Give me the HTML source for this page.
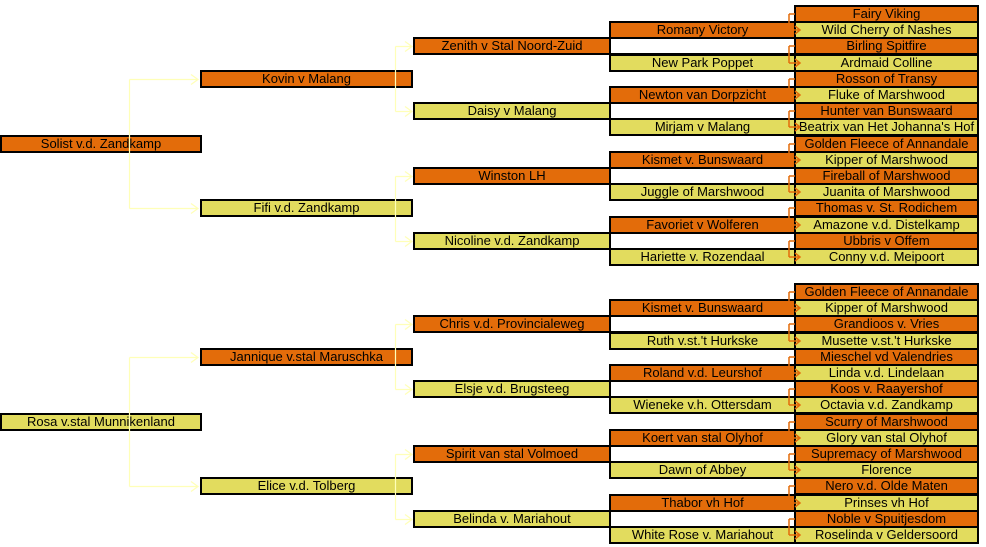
<!DOCTYPE html>
<html><head><meta charset="utf-8"><style>
body{margin:0;width:986px;height:547px;background:#fff;position:relative;overflow:hidden}
.b{position:absolute;height:18px;box-sizing:border-box;border:2px solid #000;font:13px/14px "Liberation Sans",sans-serif;text-align:center;color:#000;white-space:nowrap;overflow:hidden}
.o{background:#E36C0A}.y{background:#E2DC5E}.w{background:#fff}
.c1{left:0;width:202px}.c2{left:200px;width:213px}.c3{left:413px;width:198px}.c4{left:609px;width:187px}.c5{left:794px;width:185px}
svg{position:absolute;left:0;top:0}
</style></head><body>
<div class="b c1 o" style="top:135px">Solist v.d. Zandkamp</div>
<div class="b c2 o" style="top:70px">Kovin v Malang</div>
<div class="b c2 y" style="top:199px">Fifi v.d. Zandkamp</div>
<div class="b c4 w" style="top:37px"></div>
<div class="b c4 w" style="top:102px"></div>
<div class="b c4 w" style="top:167px"></div>
<div class="b c4 w" style="top:232px"></div>
<div class="b c3 o" style="top:37px">Zenith v Stal Noord-Zuid</div>
<div class="b c3 y" style="top:102px">Daisy v Malang</div>
<div class="b c3 o" style="top:167px">Winston LH</div>
<div class="b c3 y" style="top:232px">Nicoline v.d. Zandkamp</div>
<div class="b c4 o" style="top:21px">Romany Victory</div>
<div class="b c4 y" style="top:54px">New Park Poppet</div>
<div class="b c4 o" style="top:86px">Newton van Dorpzicht</div>
<div class="b c4 y" style="top:118px">Mirjam v Malang</div>
<div class="b c4 o" style="top:151px">Kismet v. Bunswaard</div>
<div class="b c4 y" style="top:183px">Juggle of Marshwood</div>
<div class="b c4 o" style="top:216px">Favoriet v Wolferen</div>
<div class="b c4 y" style="top:248px">Hariette v. Rozendaal</div>
<div class="b c5 o" style="top:5px">Fairy Viking</div>
<div class="b c5 y" style="top:21px">Wild Cherry of Nashes</div>
<div class="b c5 o" style="top:37px">Birling Spitfire</div>
<div class="b c5 y" style="top:54px">Ardmaid Colline</div>
<div class="b c5 o" style="top:70px">Rosson of Transy</div>
<div class="b c5 y" style="top:86px">Fluke of Marshwood</div>
<div class="b c5 o" style="top:102px">Hunter van Bunswaard</div>
<div class="b c5 y" style="top:118px">Beatrix van Het Johanna's Hof</div>
<div class="b c5 o" style="top:135px">Golden Fleece of Annandale</div>
<div class="b c5 y" style="top:151px">Kipper of Marshwood</div>
<div class="b c5 o" style="top:167px">Fireball of Marshwood</div>
<div class="b c5 y" style="top:183px">Juanita of Marshwood</div>
<div class="b c5 o" style="top:199px">Thomas v. St. Rodichem</div>
<div class="b c5 y" style="top:216px">Amazone v.d. Distelkamp</div>
<div class="b c5 o" style="top:232px">Ubbris v Offem</div>
<div class="b c5 y" style="top:248px">Conny v.d. Meipoort</div>
<div class="b c1 y" style="top:413px">Rosa v.stal Munnikenland</div>
<div class="b c2 o" style="top:348px">Jannique v.stal Maruschka</div>
<div class="b c2 y" style="top:477px">Elice v.d. Tolberg</div>
<div class="b c4 w" style="top:315px"></div>
<div class="b c4 w" style="top:380px"></div>
<div class="b c4 w" style="top:445px"></div>
<div class="b c4 w" style="top:510px"></div>
<div class="b c3 o" style="top:315px">Chris v.d. Provincialeweg</div>
<div class="b c3 y" style="top:380px">Elsje v.d. Brugsteeg</div>
<div class="b c3 o" style="top:445px">Spirit van stal Volmoed</div>
<div class="b c3 y" style="top:510px">Belinda v. Mariahout</div>
<div class="b c4 o" style="top:299px">Kismet v. Bunswaard</div>
<div class="b c4 y" style="top:332px">Ruth v.st.'t Hurkske</div>
<div class="b c4 o" style="top:364px">Roland v.d. Leurshof</div>
<div class="b c4 y" style="top:396px">Wieneke v.h. Ottersdam</div>
<div class="b c4 o" style="top:429px">Koert van stal Olyhof</div>
<div class="b c4 y" style="top:461px">Dawn of Abbey</div>
<div class="b c4 o" style="top:494px">Thabor vh Hof</div>
<div class="b c4 y" style="top:526px">White Rose v. Mariahout</div>
<div class="b c5 o" style="top:283px">Golden Fleece of Annandale</div>
<div class="b c5 y" style="top:299px">Kipper of Marshwood</div>
<div class="b c5 o" style="top:315px">Grandioos v. Vries</div>
<div class="b c5 y" style="top:332px">Musette v.st.'t Hurkske</div>
<div class="b c5 o" style="top:348px">Mieschel vd Valendries</div>
<div class="b c5 y" style="top:364px">Linda v.d. Lindelaan</div>
<div class="b c5 o" style="top:380px">Koos v. Raayershof</div>
<div class="b c5 y" style="top:396px">Octavia v.d. Zandkamp</div>
<div class="b c5 o" style="top:413px">Scurry of Marshwood</div>
<div class="b c5 y" style="top:429px">Glory van stal Olyhof</div>
<div class="b c5 o" style="top:445px">Supremacy of Marshwood</div>
<div class="b c5 y" style="top:461px">Florence</div>
<div class="b c5 o" style="top:477px">Nero v.d. Olde Maten</div>
<div class="b c5 y" style="top:494px">Prinses vh Hof</div>
<div class="b c5 o" style="top:510px">Noble v Spuitjesdom</div>
<div class="b c5 y" style="top:526px">Roselinda v Geldersoord</div>

<svg width="986" height="547" fill="none">
<g stroke="#FFFFB8" stroke-width="1.2">
<path d="M129.5 79.5V208.5M129.5 79.5H198M129.5 208.5H198M191 74.5l7 5-7 5M191 203.5l7 5-7 5"/>
<path d="M395.5 46.5V111.5M395.5 46.5H411M395.5 111.5H411M405 41.5l7 5-7 5M405 106.5l7 5-7 5"/>
<path d="M395.5 176.5V241.5M395.5 176.5H411M395.5 241.5H411M405 171.5l7 5-7 5M405 236.5l7 5-7 5"/>
<path d="M129.5 357.5V486.5M129.5 357.5H198M129.5 486.5H198M191 352.5l7 5-7 5M191 481.5l7 5-7 5"/>
<path d="M395.5 324.5V389.5M395.5 324.5H411M395.5 389.5H411M405 319.5l7 5-7 5M405 384.5l7 5-7 5"/>
<path d="M395.5 454.5V519.5M395.5 454.5H411M395.5 519.5H411M405 449.5l7 5-7 5M405 514.5l7 5-7 5"/>
</g>
<g stroke="#E36C0A" stroke-width="1.5">
<path d="M789 14V30M789 14H795M789 30H800M795 26l5 4-5 4"/>
<path d="M789 46V63M789 46H795M789 63H800M795 59l5 4-5 4"/>
<path d="M789 79V95M789 79H795M789 95H800M795 91l5 4-5 4"/>
<path d="M789 111V127M789 111H795M789 127H800M795 123l5 4-5 4"/>
<path d="M789 144V160M789 144H795M789 160H800M795 156l5 4-5 4"/>
<path d="M789 176V192M789 176H795M789 192H800M795 188l5 4-5 4"/>
<path d="M789 208V225M789 208H795M789 225H800M795 221l5 4-5 4"/>
<path d="M789 241V257M789 241H795M789 257H800M795 253l5 4-5 4"/>
<path d="M789 292V308M789 292H795M789 308H800M795 304l5 4-5 4"/>
<path d="M789 324V341M789 324H795M789 341H800M795 337l5 4-5 4"/>
<path d="M789 357V373M789 357H795M789 373H800M795 369l5 4-5 4"/>
<path d="M789 389V405M789 389H795M789 405H800M795 401l5 4-5 4"/>
<path d="M789 422V438M789 422H795M789 438H800M795 434l5 4-5 4"/>
<path d="M789 454V470M789 454H795M789 470H800M795 466l5 4-5 4"/>
<path d="M789 486V503M789 486H795M789 503H800M795 499l5 4-5 4"/>
<path d="M789 519V535M789 519H795M789 535H800M795 531l5 4-5 4"/>
</g>
</svg>
</body></html>
